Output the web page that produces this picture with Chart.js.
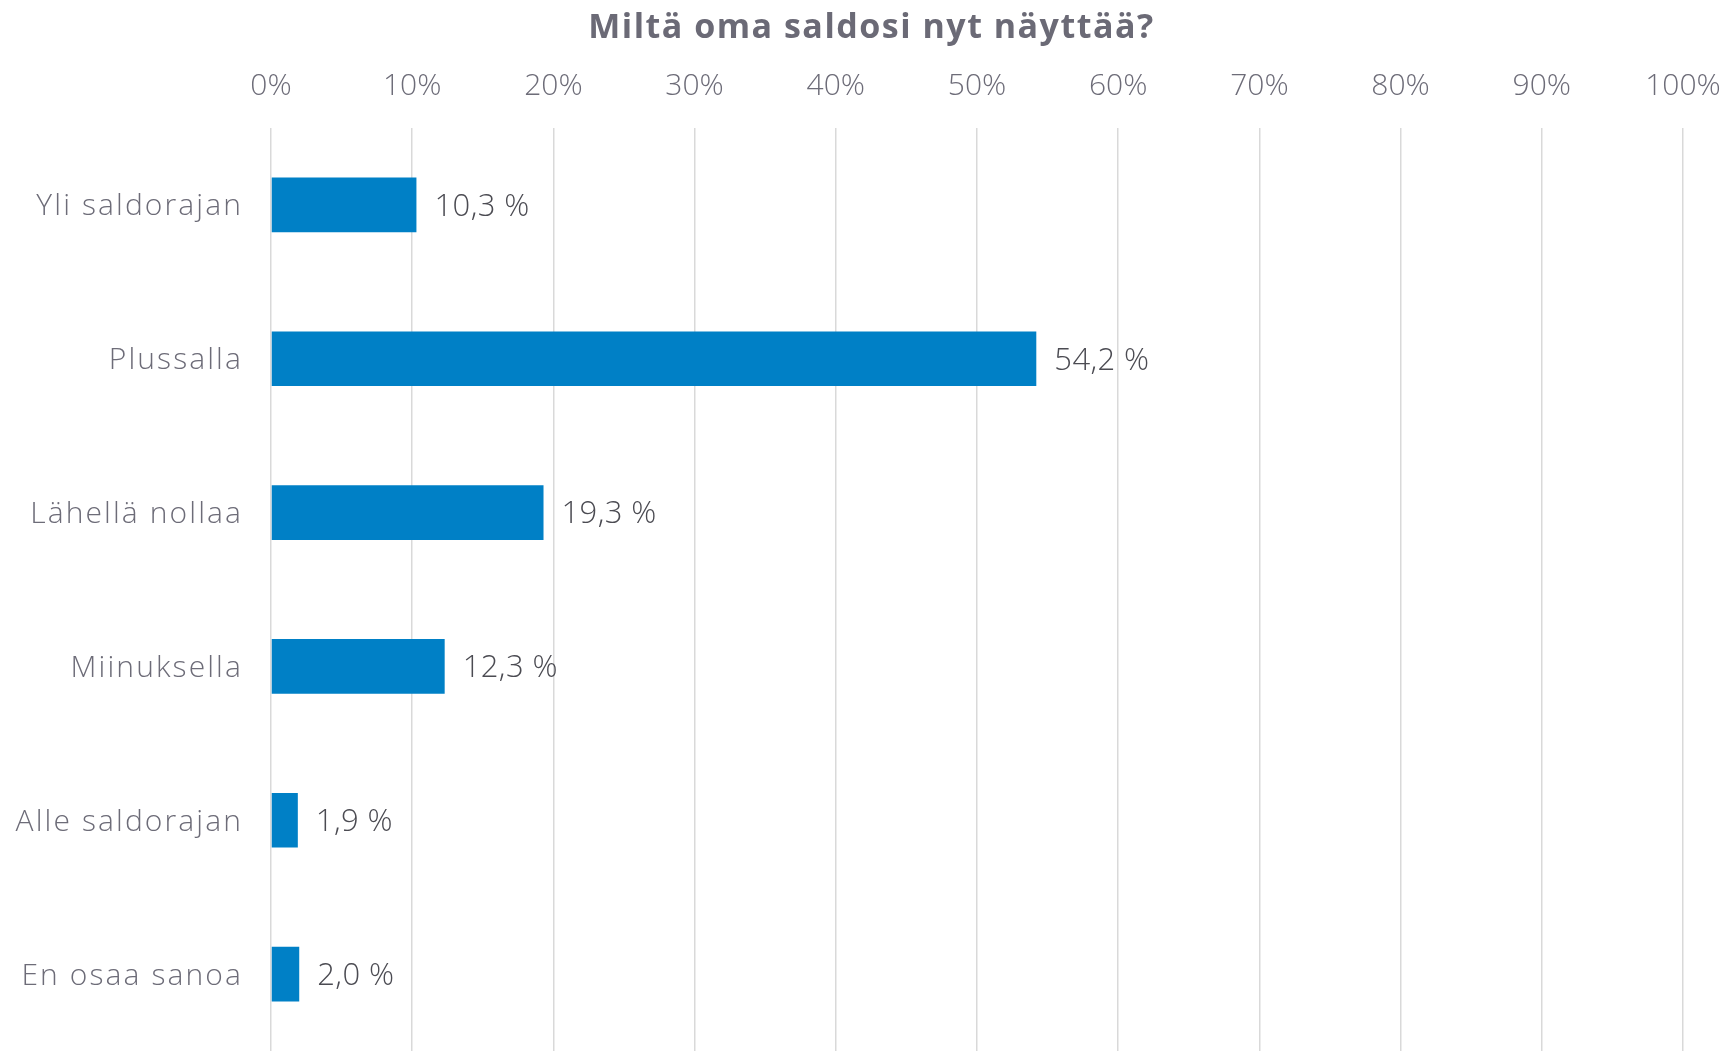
<!DOCTYPE html>
<html>
<head>
<meta charset="utf-8">
<script src="https://cdn.jsdelivr.net/npm/chart.js@4"></script>
<style>
  html, body { margin: 0; padding: 0; background: #ffffff; }
  #wrap { width: 1729px; height: 1051px; }
</style>
</head>
<body>
<div id="wrap"><canvas id="c" width="1729" height="1051"></canvas></div>
<script>
const titleText = 'Miltä oma saldosi nyt näyttää?';
const categories = ['Yli saldorajan', 'Plussalla', 'Lähellä nollaa', 'Miinuksella', 'Alle saldorajan', 'En osaa sanoa'];
const values = [10.3, 54.2, 19.3, 12.3, 1.9, 2.0];
const tickValues = [0, 10, 20, 30, 40, 50, 60, 70, 80, 90, 100];

const FONT = "'Open Sans', Lato, sans-serif";

function wrapSpacing(obj, method, spacing, dx, dy) {
  if (!obj || obj['__sp_' + method]) return;
  const orig = obj[method];
  obj[method] = function (...args) {
    const c = this.ctx;
    c.save();
    c.letterSpacing = spacing;
    c.translate(dx, dy);
    const r = orig.apply(this, args);
    c.restore();
    return r;
  };
  obj['__sp_' + method] = true;
}

const spacingPlugin = {
  id: 'spacingPlugin',
  beforeDraw(chart) {
    wrapSpacing(chart.scales.y, 'drawLabels', '2.1px', 0, 2);
    wrapSpacing(chart.titleBlock, 'draw', '1.5px', 30, 0);
  }
};

const valueLabels = {
  id: 'valueLabels',
  afterDatasetsDraw(chart) {
    const ctx = chart.ctx;
    const meta = chart.getDatasetMeta(0);
    ctx.save();
    ctx.font = "300 31px " + FONT;
    ctx.letterSpacing = '0.4px';
    ctx.fillStyle = '#4b4b52';
    ctx.textAlign = 'left';
    ctx.textBaseline = 'middle';
    meta.data.forEach((bar, i) => {
      const txt = values[i].toFixed(1).replace('.', ',') + ' %';
      ctx.fillText(txt, bar.x + 18, bar.y + 2);
    });
    ctx.restore();
  }
};

new Chart(document.getElementById('c'), {
  type: 'bar',
  data: {
    labels: categories,
    datasets: [{
      data: values,
      backgroundColor: '#0080C6',
      borderWidth: 0,
      barPercentage: 0.355,
      categoryPercentage: 1.0
    }]
  },
  plugins: [spacingPlugin, valueLabels],
  options: {
    indexAxis: 'y',
    responsive: false,
    animation: false,
    layout: { padding: { left: 0, right: 46, top: 0, bottom: 0 } },
    plugins: {
      legend: { display: false },
      tooltip: { enabled: false },
      title: {
        display: true,
        text: titleText,
        color: '#6b6a76',
        font: { family: FONT, size: 34, weight: 'bold' },
        padding: { top: 7.5, bottom: 0 }
      }
    },
    scales: {
      x: {
        position: 'top',
        min: 0,
        max: 100,
        afterBuildTicks(scale) { scale.ticks = tickValues.map(v => ({ value: v })); },
        afterFit(scale) {
          scale.height = 128 - 48.3;
          scale.paddingLeft = 0;
          scale.paddingRight = 0;
        },
        ticks: {
          color: '#6d6c78',
          font: { family: FONT, size: 30, weight: '300' },
          padding: 24,
          maxRotation: 0,
          callback: (v) => v + '%'
        },
        grid: { color: '#d9d9d9', lineWidth: 1.5, drawTicks: false },
        border: { display: false }
      },
      y: {
        afterFit(scale) {
          scale.width = 271;
          scale.paddingTop = 0;
          scale.paddingBottom = 0;
        },
        ticks: {
          color: '#6d6c78',
          font: { family: FONT, size: 30, weight: '300' },
          padding: 28
        },
        grid: { display: false, drawTicks: false },
        border: { display: false }
      }
    }
  }
});
</script>
</body>
</html>
